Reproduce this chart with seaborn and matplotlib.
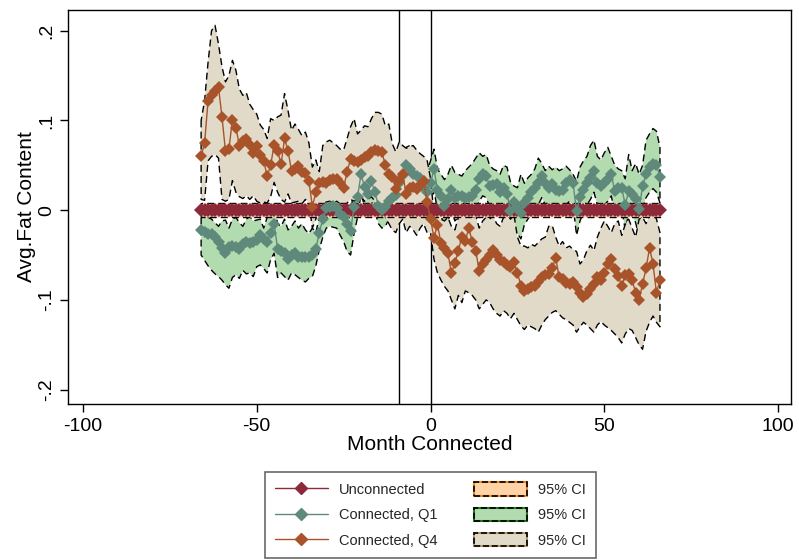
import matplotlib
matplotlib.use("Agg")
import matplotlib.pyplot as plt
from matplotlib.lines import Line2D
from matplotlib.patches import Patch
import pandas as pd
import seaborn as sns

# months relative to connection, -66 .. 66
months = list(range(-66, 67))

# Unconnected households (normalised to zero)
unconn_mean = [0.0] * 133
unconn_hi = [0.0075] * 133
unconn_lo = [-0.0075] * 133

# Connected, Q1
q1_mean = [
    -.022, -.024, -.026, -.027, -.030, -.035, -.042, -.048, -.041, -.040,
    -.041, -.043, -.038, -.035, -.037, -.036, -.033, -.028, -.032, -.035,
    -.025, -.015, -.043, -.046, -.048, -.054, -.050, -.048, -.052, -.052,
    -.052, -.052, -.050, -.043, -.025, -.010, .002, .004, .005, .002,
    -.004, -.008, -.015, -.023, .004, .015, .040, .026, .018, .032,
    .020, .005, .000, .003, .010, .014, .017, .030, .039, .050,
    .046, .040, .038, .036, .025, .020, .030, .046, .022, .016,
    .005, .012, .023, .014, .016, .016, .014, .015, .016, .023,
    .035, .040, .038, .027, .028, .029, .020, .025, .018, -.001,
    .009, .002, -.003, .008, .014, .020, .025, .030, .038, .030,
    .025, .029, .022, .021, .023, .030, .034, .030, -.001, .015,
    .023, .030, .036, .044, .030, .027, .030, .035, .040, .021,
    .025, .025, .006, .021, .018, .012, .001, .027, .040, .048,
    .052, .050, .037]
q1_hi = [
    -.008, -.007, -.008, -.010, -.014, -.018, -.012, -.011, -.020, -.010,
    -.008, -.014, -.018, -.010, -.007, -.012, -.011, -.010, -.020, -.008,
    -.006, .005, -.015, -.018, -.010, -.022, -.018, -.012, -.020, -.015,
    -.022, -.026, -.020, -.025, -.008, .008, .015, .018, .020, .016,
    .012, .008, .002, .000, .022, .035, .060, .048, .040, .052,
    .040, .025, .022, .024, .030, .034, .038, .050, .058, .070,
    .072, .063, .060, .057, .048, .044, .055, .068, .046, .040,
    .034, .040, .050, .042, .040, .038, .044, .048, .052, .058,
    .064, .060, .062, .050, .046, .044, .040, .050, .048, .031,
    .027, .025, .040, .030, .036, .040, .046, .058, .052, .044,
    .049, .045, .048, .044, .046, .049, .045, .040, .032, .048,
    .055, .060, .072, .078, .060, .056, .064, .070, .060, .050,
    .046, .044, .035, .062, .044, .052, .040, .050, .078, .085,
    .091, .088, .070]
q1_lo = [
    -.050, -.056, -.062, -.067, -.071, -.074, -.078, -.083, -.087, -.075,
    -.072, -.076, -.067, -.071, -.070, -.074, -.063, -.061, -.065, -.070,
    -.055, -.048, -.075, -.070, -.074, -.078, -.070, -.072, -.075, -.078,
    -.080, -.076, -.074, -.062, -.044, -.030, -.020, -.018, -.019, -.020,
    -.028, -.035, -.046, -.050, -.026, -.008, .018, .005, -.004, .010,
    -.002, -.015, -.020, -.018, -.010, -.006, -.004, .008, .018, .028,
    .022, .018, .015, .014, .004, -.002, .006, .022, .000, -.006,
    -.018, -.012, .000, -.012, -.008, -.008, -.010, -.008, -.008, .000,
    .010, .016, .014, .004, .006, .006, -.004, .002, -.006, -.030,
    -.020, -.026, -.032, -.016, -.010, -.004, .002, .006, .014, .006,
    .001, .004, -.002, -.004, -.002, .006, .010, .006, -.028, -.012,
    -.002, .006, .012, .020, .006, .002, .006, .010, .016, -.004,
    .000, .002, -.022, -.004, -.006, -.014, -.030, .002, .014, .020,
    .024, .020, .008]

# Connected, Q4
q4_mean = [
    .060, .075, .122, .128, .133, .137, .104, .066, .068, .101,
    .092, .072, .077, .079, .073, .064, .072, .061, .055, .038,
    .050, .073, .066, .051, .080, .066, .044, .046, .049, .043,
    .041, .033, .004, .020, .030, .031, .030, .034, .035, .035,
    .030, .025, .043, .057, .055, .054, .056, .059, .060, .065,
    .067, .066, .065, .050, .040, .037, .024, .033, .040, .018,
    .025, .026, .024, .028, .033, .009, -.010, -.031, -.016, -.037,
    -.042, -.048, -.070, -.059, -.045, -.030, -.034, -.020, -.035, -.045,
    -.068, -.060, -.055, -.050, -.044, -.050, -.055, -.058, -.061, -.063,
    -.058, -.070, -.084, -.090, -.088, -.086, -.084, -.080, -.075, -.072,
    -.071, -.065, -.053, -.075, -.077, -.081, -.082, -.080, -.086, -.092,
    -.097, -.093, -.088, -.082, -.074, -.078, -.070, -.060, -.054, -.066,
    -.073, -.085, -.072, -.071, -.078, -.092, -.100, -.082, -.065, -.042,
    -.060, -.092, -.078]
q4_hi = [
    .100, .122, .165, .200, .206, .185, .160, .143, .150, .167,
    .156, .135, .128, .131, .118, .112, .107, .095, .090, .080,
    .102, .100, .104, .106, .130, .111, .089, .096, .090, .083,
    .087, .075, .048, .056, .043, .072, .076, .078, .075, .072,
    .068, .067, .080, .093, .102, .085, .089, .094, .093, .102,
    .109, .109, .107, .094, .096, .074, .065, .076, .072, .069,
    .071, .072, .067, .063, .060, .056, .035, -.005, -.003, -.010,
    -.012, -.008, -.018, -.022, -.008, -.005, -.007, -.005, -.010, -.006,
    -.020, -.012, -.008, -.010, -.006, -.015, -.018, -.008, -.005, -.010,
    -.005, -.030, -.040, -.040, -.042, -.038, -.040, -.036, -.032, -.030,
    -.018, -.017, -.030, -.040, -.035, -.042, -.040, -.044, -.046, -.060,
    -.055, -.045, -.039, -.045, -.030, -.020, -.012, -.018, -.025, -.015,
    -.012, -.028, -.016, -.010, -.020, -.030, -.010, -.008, -.015, -.005,
    -.003, -.010, -.025]
q4_lo = [
    .012, .011, .055, .060, .062, .058, .012, .010, .012, .033,
    .020, .015, .013, .016, .012, .016, .010, .008, .009, .008,
    .015, .031, .020, .012, .009, .018, .008, .009, .010, .007,
    .012, .008, -.020, -.010, .005, .008, .009, .010, .008, .010,
    .007, .003, .008, .012, .010, .012, .015, .010, .012, .015,
    .010, .005, .000, -.008, -.015, -.022, -.025, -.015, -.010, -.025,
    -.018, -.022, -.028, -.020, -.015, -.025, -.025, -.055, -.070, -.078,
    -.085, -.090, -.100, -.110, -.095, -.103, -.090, -.092, -.095, -.100,
    -.110, -.105, -.100, -.103, -.110, -.115, -.118, -.112, -.115, -.121,
    -.115, -.122, -.129, -.133, -.128, -.130, -.132, -.136, -.128, -.122,
    -.118, -.114, -.112, -.116, -.120, -.122, -.125, -.128, -.136, -.130,
    -.125, -.128, -.132, -.136, -.128, -.124, -.128, -.131, -.134, -.138,
    -.142, -.148, -.138, -.132, -.134, -.142, -.150, -.155, -.135, -.125,
    -.118, -.125, -.130]

event_lines = [-9, 0]
xticks = [-100, -50, 0, 50, 100]
yticks = [-.2, -.1, 0, .1, .2]
ytick_labels = ["-.2", "-.1", "0", ".1", ".2"]

df = pd.DataFrame({"month": months,
                   "unconn": unconn_mean, "unconn_hi": unconn_hi, "unconn_lo": unconn_lo,
                   "q1": q1_mean, "q1_hi": q1_hi, "q1_lo": q1_lo,
                   "q4": q4_mean, "q4_hi": q4_hi, "q4_lo": q4_lo})

# (column, ci fill, zorder of band)
bands = [("q1", "#b2dcb0", 1), ("q4", "#e2dac8", 2), ("unconn", "#ffd3a6", 3)]
# (column, line colour, marker size, zorder)
lines = [("unconn", "#8c2a3a", 7, 4), ("q1", "#5f8a7b", 6.5, 5), ("q4", "#a8532a", 6.5, 6)]

sns.set_style("ticks")
plt.rcParams["font.family"] = ["Liberation Sans", "DejaVu Sans"]

fig = plt.figure(figsize=(7.99, 5.6), dpi=100)
ax = fig.add_axes([0.0851, 0.2786, 0.9049, 0.7034])

for x in event_lines:
    ax.axvline(x, color="black", lw=1, zorder=0.5)

dash = (0, (5, 3))
for col, fc, z in bands:
    ax.fill_between(df["month"], df[col + "_lo"], df[col + "_hi"],
                    facecolor=fc, edgecolor="black", linestyle=dash, lw=1, zorder=z)

for col, lc, ms, z in lines:
    sns.lineplot(data=df, x="month", y=col, color=lc, marker="D", markersize=ms,
                 markeredgewidth=0, lw=1, ax=ax, zorder=z, legend=False)

ax.set_xlim(-104.3, 103.7)
ax.set_ylim(-0.216, 0.223)
ax.set_xticks(xticks)
ax.set_xticklabels([str(t) for t in xticks])
ax.set_yticks(yticks)
ax.set_yticklabels(ytick_labels, rotation=90, va="center")
ax.tick_params(axis="both", length=6, width=1, color="black", labelsize=14, labelcolor="black")
ax.tick_params(axis="x", pad=4)
ax.tick_params(axis="y", pad=3)
for sp in ax.spines.values():
    sp.set_color("black")
    sp.set_linewidth(1)
ax.set_xlabel("Month Connected", fontsize=15, labelpad=0, color="black")
ax.set_ylabel("Avg.Fat Content", fontsize=15, labelpad=2, color="black")

handles = [
    Line2D([], [], color="#8c2a3a", marker="D", markersize=6, lw=1),
    Line2D([], [], color="#5f8a7b", marker="D", markersize=6, lw=1),
    Line2D([], [], color="#a8532a", marker="D", markersize=6, lw=1),
    (Patch(facecolor="#ffd3a6", edgecolor="#f08a2a", lw=1.5),
     Patch(facecolor="none", edgecolor="black", ls="--", lw=1.2)),
    (Patch(facecolor="#b2dcb0", edgecolor="#237a23", lw=1.5),
     Patch(facecolor="none", edgecolor="black", ls="--", lw=1.2)),
    (Patch(facecolor="#e2dac8", edgecolor="#b49c6c", lw=1.5),
     Patch(facecolor="none", edgecolor="black", ls="--", lw=1.2)),
]
labels = ["Unconnected", "Connected, Q1", "Connected, Q4", "95% CI", "95% CI", "95% CI"]
leg = fig.legend(handles, labels, ncol=2, loc="center", bbox_to_anchor=(0.539, 0.080),
                 frameon=True, fancybox=False, fontsize=10.5, handlelength=3.6,
                 handleheight=1.0, labelspacing=0.75, columnspacing=2.5, borderpad=0.7,
                 edgecolor="#444444")
leg.get_frame().set_linewidth(1.2)

fig.savefig("out.png", dpi=100)
